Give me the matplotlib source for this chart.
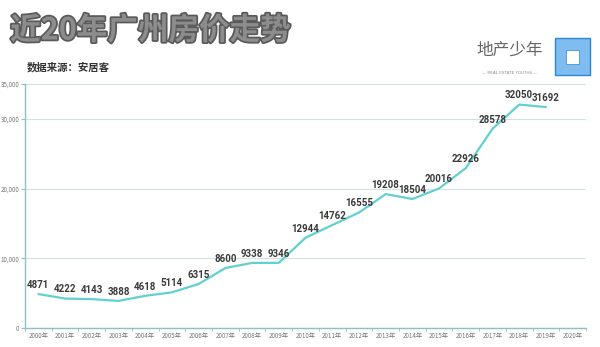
import matplotlib.pyplot as plt
import matplotlib.patheffects as pe
from matplotlib.patches import Rectangle
import numpy as np

plt.rcParams['font.family'] = ['Noto Sans CJK SC', 'DejaVu Sans']

years = [f"{y}年" for y in range(2000, 2021)]
prices = [4871, 4222, 4143, 3888, 4618, 5114, 6315, 8600, 9338, 9346,
          12944, 14762, 16555, 19208, 18504, 20016, 22926, 28578, 32050, 31692]
yticks = [0, 10000, 20000, 30000, 35000]
ytick_labels = ["0", "10,000", "20,000", "30,000", "35,000"]

fig = plt.figure(figsize=(6, 3.47), dpi=100)
fig.patch.set_facecolor("white")
ax = fig.add_axes([25 / 600, 1 - 328 / 347, 561 / 600, 244 / 347])

x = np.arange(len(prices))
ax.plot(x, prices, color="#62d0d0", lw=1.6, solid_capstyle="round")
for xi, v in zip(x, prices):
    ax.annotate(str(v), (xi, v), xytext=(0, 3), textcoords="offset points",
                ha="center", va="bottom", fontsize=7, fontweight="bold",
                color="#3a3a3a", family="Roboto")

ax.set_xlim(-0.5, len(years) - 0.5)
ax.set_ylim(0, 35000)
ax.set_xticks(np.arange(len(years)))
ax.set_xticklabels(years, fontsize=4.5, color="#777777")
ax.set_xticks(np.arange(len(years) + 1) - 0.5, minor=True)
ax.tick_params(axis="x", which="major", length=0, pad=3)
ax.tick_params(axis="x", which="minor", length=2, color="#8fbfbf")
ax.set_yticks(yticks)
ax.set_yticklabels(ytick_labels, fontsize=4.5, color="#777777")
ax.tick_params(axis="y", length=3, color="#8fbfbf", pad=1)
ax.grid(axis="y", color="#cfe3e3", lw=0.8)
ax.set_axisbelow(True)
for s in ["top", "right"]:
    ax.spines[s].set_visible(False)
for s in ["left", "bottom"]:
    ax.spines[s].set_color("#8fbfbf")
    ax.spines[s].set_linewidth(1.0)

t = fig.text(0.017, 0.912, "近20年广州房价走势", fontsize=22, fontweight="bold",
             color="#8c8c8c", va="center", ha="left")
t.set_path_effects([pe.Stroke(linewidth=2.5, foreground="#5a5a5a"), pe.Normal()])
fig.text(0.045, 0.807, "数据来源：安居客", fontsize=7.5, fontweight="bold",
         color="#333333", va="center", ha="left")

fig.text(0.85, 0.855, "地产少年", fontsize=12, color="#666666", ha="center",
         va="center", fontweight="light")
fig.text(0.85, 0.79, "— REAL ESTATE YOUTHS —", fontsize=3, color="#888888",
         ha="center", va="center", family="DejaVu Sans")
fig.patches.append(Rectangle((0.925, 0.784), 0.058, 0.106, transform=fig.transFigure,
                             facecolor="#7fbcef", edgecolor="#2a88d8", lw=1))
fig.patches.append(Rectangle((0.943, 0.817), 0.022, 0.04, transform=fig.transFigure,
                             facecolor="white", edgecolor="#2a88d8", lw=0.5))

fig.savefig("out.png", dpi=100, facecolor="white")
